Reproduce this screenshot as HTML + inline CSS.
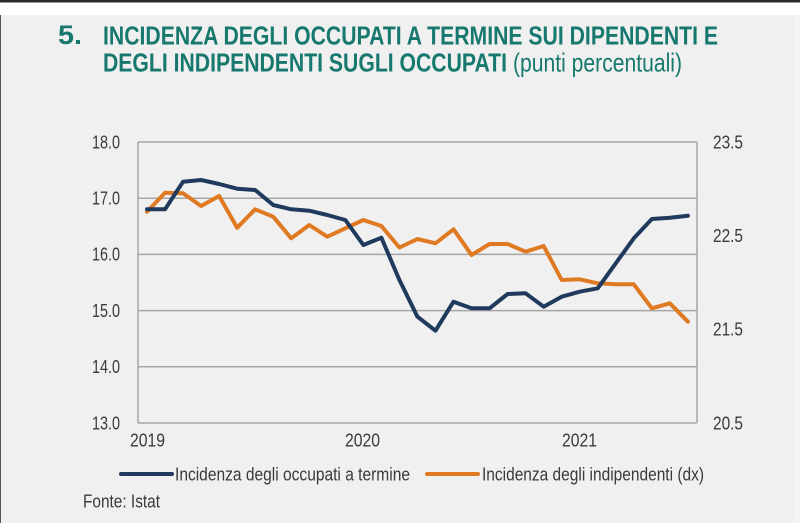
<!DOCTYPE html>
<html>
<head>
<meta charset="utf-8">
<style>
html,body{margin:0;padding:0;}
body{width:800px;height:523px;overflow:hidden;background:#f0f0f0;}
svg{display:block;}
</style>
</head>
<body>
<svg width="800" height="523" viewBox="0 0 800 523" xmlns="http://www.w3.org/2000/svg">
  <rect x="0" y="0" width="800" height="523" fill="#f0f0f0"/>
  <rect x="0" y="0" width="800" height="15" fill="#ffffff"/>
  <rect x="0" y="0" width="800" height="2.5" fill="#2a2a2a"/>
  <rect x="0" y="15" width="1" height="508" fill="#555555"/>
  <rect x="794" y="15" width="6" height="508" fill="#f4f4f4"/>

  <!-- Title -->
  <g font-family="'Liberation Sans Narrow','Liberation Sans',sans-serif" fill="#17786e">
    <text x="58" y="44" font-size="27" font-weight="bold" textLength="24" lengthAdjust="spacingAndGlyphs" font-family="'Liberation Sans',sans-serif">5.</text>
    <text x="103" y="44.5" font-size="26" font-weight="bold" textLength="615" lengthAdjust="spacingAndGlyphs">INCIDENZA DEGLI OCCUPATI A TERMINE SUI DIPENDENTI E</text>
    <text x="103" y="71.5" font-size="26" font-weight="bold" textLength="404" lengthAdjust="spacingAndGlyphs">DEGLI INDIPENDENTI SUGLI OCCUPATI</text>
    <text x="513" y="71.5" font-size="26" textLength="169" lengthAdjust="spacingAndGlyphs">(punti percentuali)</text>
  </g>

  <!-- Gridlines -->
  <g stroke="#a6a6a6" stroke-width="1.5" fill="none">
    <line x1="138" y1="142" x2="697" y2="142"/>
    <line x1="138" y1="198.2" x2="697" y2="198.2"/>
    <line x1="138" y1="254.4" x2="697" y2="254.4"/>
    <line x1="138" y1="310.6" x2="697" y2="310.6"/>
    <line x1="138" y1="366.8" x2="697" y2="366.8"/>
    <line x1="138" y1="423" x2="697" y2="423"/>
    <line x1="138" y1="142" x2="138" y2="423"/>
    <line x1="697" y1="142" x2="697" y2="423"/>
  </g>

  <!-- Axis labels -->
  <g font-family="'Liberation Sans Narrow','Liberation Sans',sans-serif" font-size="18" fill="#3a3a3a">
    <text x="92" y="148.5" textLength="28" lengthAdjust="spacingAndGlyphs">18.0</text>
    <text x="92" y="204.5" textLength="28" lengthAdjust="spacingAndGlyphs">17.0</text>
    <text x="92" y="260.5" textLength="28" lengthAdjust="spacingAndGlyphs">16.0</text>
    <text x="92" y="317" textLength="28" lengthAdjust="spacingAndGlyphs">15.0</text>
    <text x="92" y="373" textLength="28" lengthAdjust="spacingAndGlyphs">14.0</text>
    <text x="92" y="429.5" textLength="28" lengthAdjust="spacingAndGlyphs">13.0</text>

    <text x="713" y="148.5" textLength="30" lengthAdjust="spacingAndGlyphs">23.5</text>
    <text x="713" y="242" textLength="30" lengthAdjust="spacingAndGlyphs">22.5</text>
    <text x="713" y="335.5" textLength="30" lengthAdjust="spacingAndGlyphs">21.5</text>
    <text x="713" y="429.5" textLength="30" lengthAdjust="spacingAndGlyphs">20.5</text>

    <text x="130" y="446.5" textLength="35" lengthAdjust="spacingAndGlyphs">2019</text>
    <text x="345" y="446.5" textLength="35" lengthAdjust="spacingAndGlyphs">2020</text>
    <text x="562" y="446.5" textLength="35" lengthAdjust="spacingAndGlyphs">2021</text>
  </g>

  <!-- Series -->
  <polyline fill="none" stroke="#e07a22" stroke-width="4" stroke-linejoin="round" stroke-linecap="round"
    points="147,211.7 165.03,192.7 183.06,193.3 201.09,206 219.12,196 237.15,227.7 255.18,209.3 273.21,216.7 291.24,238.3 309.27,225 327.3,236.7 345.33,228.3 363.36,220 381.39,226 399.42,247.5 417.45,239 435.48,243.3 453.51,229.3 471.54,255 489.57,244 507.6,244 525.63,251.7 543.66,246 561.69,280 579.72,279.3 597.75,283.3 615.78,284.3 633.81,284.3 651.84,308.3 669.87,303.3 687.9,321.7"/>
  <polyline fill="none" stroke="#1f3a5c" stroke-width="4" stroke-linejoin="round" stroke-linecap="round"
    points="147,209.3 165.03,209.3 183.06,181.7 201.09,180 219.12,184 237.15,188.7 255.18,190 273.21,205 291.24,209.3 309.27,210.7 327.3,215 345.33,220 363.36,245 381.39,237.7 399.42,280 417.45,316.7 435.48,330.7 453.51,301.7 471.54,308.3 489.57,308.3 507.6,294 525.63,293.3 543.66,306.7 561.69,296.7 579.72,291.7 597.75,288.3 615.78,263.3 633.81,238.3 651.84,219 669.87,217.7 687.9,215.7"/>

  <!-- Legend -->
  <line x1="121" y1="474" x2="172" y2="474" stroke="#1f3a5c" stroke-width="4" stroke-linecap="round"/>
  <line x1="427" y1="474" x2="478" y2="474" stroke="#e07a22" stroke-width="4" stroke-linecap="round"/>
  <g font-family="'Liberation Sans Narrow','Liberation Sans',sans-serif" font-size="18" fill="#3a3a3a">
    <text x="175" y="480.5" textLength="235" lengthAdjust="spacingAndGlyphs">Incidenza degli occupati a termine</text>
    <text x="482" y="480.5" textLength="222" lengthAdjust="spacingAndGlyphs">Incidenza degli indipendenti (dx)</text>
    <text x="83" y="507.5" textLength="77" lengthAdjust="spacingAndGlyphs">Fonte: Istat</text>
  </g>
</svg>
</body>
</html>
